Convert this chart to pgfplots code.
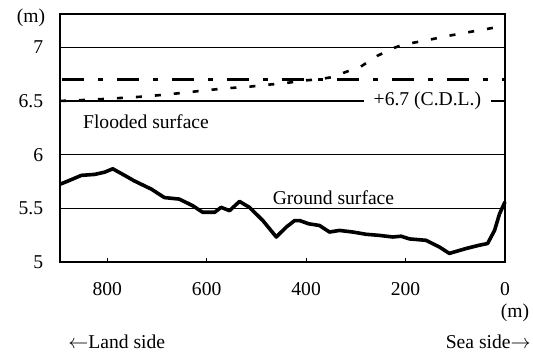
\documentclass[border=0pt]{standalone}
\usepackage{pgfplots}
\pgfplotsset{compat=1.18}
\usepackage{fontspec}
\setmainfont{Liberation Serif}
\begin{document}
\fontsize{9.8}{11}\selectfont
\begin{tikzpicture}
\useasboundingbox (-30pt,-47pt) rectangle (236.5pt,131pt);
\begin{axis}[
  scale only axis, width=222.5pt, height=124pt,
  at={(0,0)}, anchor=south west,
  x dir=reverse, xmin=0, xmax=895, ymin=5, ymax=7.31,
  xtick={0,200,400,600,800}, ytick={5,5.5,6,6.5,7},
  yticklabels={5,5.5,6,6.5,7},
  xtick pos=left, tick align=inside,
  major tick length=2pt,
  ytick style={draw=none},
  xtick style={black, line width=0.6pt},
  ymajorgrids, grid style={black, line width=0.6pt},
  axis line style={black, line width=0.6pt},
  /pgf/number format/assume math mode=true,
  yticklabel style={xshift=-5pt},
  xticklabel style={yshift=-7pt},
  clip=false,
]
% ground surface
\addplot[black, line width=1.8pt, line join=round] coordinates {
(895,5.724) (879,5.754) (852,5.807) (825,5.816) (805,5.837) (789,5.868)
(772,5.825) (745,5.754) (711,5.678) (685,5.60) (655,5.586) (628,5.524)
(608,5.463) (584,5.463) (571,5.509) (554,5.478) (534,5.564) (514,5.509)
(487,5.386) (460,5.233) (440,5.325) (423,5.386) (413,5.386) (395,5.356)
(373,5.34) (353,5.279) (333,5.294) (306,5.279) (279,5.258) (253,5.248)
(226,5.233) (209,5.24) (192,5.215) (159,5.202) (132,5.14) (112,5.08)
(78,5.126) (52,5.156) (35,5.172) (21,5.294) (11,5.448) (0,5.56)
};
% flooded surface
\addplot[black, line width=1.3pt, dash pattern=on 3pt off 6.5pt] coordinates {
(895,6.5) (840,6.51) (800,6.52) (765,6.53) (730,6.54) (680,6.56) (640,6.58)
(600,6.6) (555,6.62) (520,6.63) (480,6.65) (443,6.665) (407,6.69) (377,6.70)
(350,6.72) (320,6.77) (290,6.82) (257,6.92) (220,7.0) (200,7.03) (162,7.06)
(122,7.1) (86,7.13) (50,7.16) (0,7.2)
};
% C.D.L. +6.7
\addplot[black, line width=1.5pt, dash pattern=on 11pt off 7pt on 2.5pt off 7pt] coordinates {
(891,6.7) (0,6.7)
};
\node[fill=white, inner xsep=5pt, inner ysep=1pt] at (axis cs:156,6.5) {+6.7 (C.D.L.)};
\node at (axis cs:722,6.306) {Flooded surface};
\node at (axis cs:345,5.60) {Ground surface};
\end{axis}
\node at (-14.5pt,122pt) {(m)};
\node at (227.5pt,-25.5pt) {(m)};
\node[anchor=west, inner sep=0pt] at (4pt,-40pt) {$\leftarrow$Land side};
\node[anchor=east, inner sep=0pt] at (235.5pt,-40pt) {Sea side$\rightarrow$};
\end{tikzpicture}
\end{document}
